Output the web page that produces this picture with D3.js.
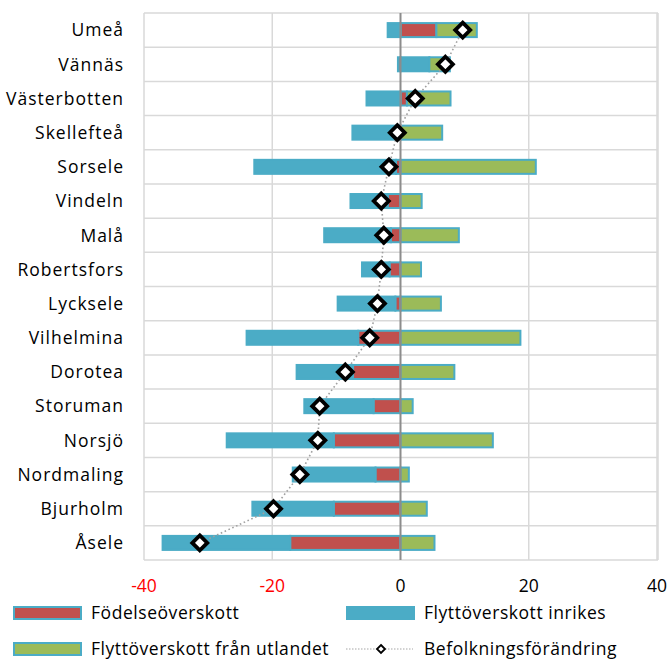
<!DOCTYPE html>
<html>
<head>
<meta charset="utf-8">
<script src="https://d3js.org/d3.v7.min.js"></script>
<style>
  body { margin: 0; background: #fff; }
  text { font-family: "Open Sans", sans-serif; }
</style>
</head>
<body>
<div id="chart"></div>
<script>
// kommuner, uppifrån och ned
const kommuner = ["Umeå", "Vännäs", "Västerbotten", "Skellefteå", "Sorsele", "Vindeln", "Malå",
    "Robertsfors", "Lycksele", "Vilhelmina", "Dorotea", "Storuman", "Norsjö", "Nordmaling", "Bjurholm", "Åsele"];

const fodelse = [5.6, -0.4, 1.0, -0.2, -0.7, -2.0, -1.5, -1.7, -0.8, -6.6, -7.4, -4.2, -10.4, -3.9, -10.4, -17.2];
const inrikes = [-2.0, 4.5, -5.3, -7.3, -22.1, -5.8, -10.4, -4.3, -9.0, -17.4, -8.8, -10.8, -16.7, -12.9, -12.7, -19.9];
const utlandet = [6.3, 3.2, 6.8, 6.5, 21.1, 3.3, 9.1, 3.2, 6.3, 18.7, 8.4, 1.9, 14.4, 1.3, 4.1, 5.3];
const forandring = [9.7, 7.0, 2.3, -0.5, -1.8, -3.0, -2.6, -3.0, -3.6, -4.8, -8.6, -12.6, -12.9, -15.7, -19.8, -31.3];

const xTicks = [-40, -20, 0, 20, 40];

const seriesNames = ["Födelseöverskott", "Flyttöverskott inrikes", "Flyttöverskott från utlandet", "Befolkningsförändring"];
const colors = { fodelse: "#C0504D", inrikes: "#4BACC6", utlandet: "#9BBB59" };

const svgWidth = 670;
const svgHeight = 659;

const margin = { top: 13, right: 12, bottom: 99, left: 144 };
const width = svgWidth - margin.left - margin.right;
const height = svgHeight - margin.top - margin.bottom;

const fontSize = 17.5;

const svg = d3.select("#chart")
    .append("svg")
    .attr("width", svgWidth)
    .attr("height", svgHeight);

const chartGroup = svg.append("g")
    .attr("transform", `translate(${margin.left}, ${margin.top})`);

// table for the stack
const rows = kommuner.map((k, i) => ({
    kommun: k,
    fodelse: fodelse[i],
    inrikes: inrikes[i],
    utlandet: utlandet[i],
    forandring: forandring[i]
}));

const stacked = d3.stack()
    .keys(["fodelse", "inrikes", "utlandet"])
    .offset(d3.stackOffsetDiverging)(rows);

const xScale = d3.scaleLinear()
    .domain([-40, 40])
    .range([0, width - 1]);

const yScale = d3.scaleBand()
    .domain(kommuner)
    .range([0, height])
    .paddingInner(0.59)
    .paddingOuter(0.295);

const step = yScale.step();

// gridlines
chartGroup.append("g")
    .selectAll("line")
    .data(d3.range(kommuner.length + 1))
    .enter()
    .append("line")
    .attr("x1", 0)
    .attr("x2", width)
    .attr("y1", d => d * step)
    .attr("y2", d => d * step)
    .attr("stroke", "#d9d9d9")
    .attr("stroke-width", 1.5);

chartGroup.append("g")
    .selectAll("line")
    .data(xTicks.filter(t => t !== 0))
    .enter()
    .append("line")
    .attr("x1", d => xScale(d))
    .attr("x2", d => xScale(d))
    .attr("y1", 0)
    .attr("y2", height)
    .attr("stroke", "#d9d9d9")
    .attr("stroke-width", 1.5);

chartGroup.append("line")
    .attr("x1", width)
    .attr("x2", width)
    .attr("y1", 0)
    .attr("y2", height)
    .attr("stroke", "#d9d9d9")
    .attr("stroke-width", 1.5);

// bars
const barH = yScale.bandwidth();
chartGroup.selectAll(".serie")
    .data(stacked)
    .enter()
    .append("g")
    .attr("class", "serie")
    .attr("fill", d => colors[d.key])
    .selectAll("rect")
    .data(d => d)
    .enter()
    .append("rect")
    .attr("x", d => xScale(Math.min(d[0], d[1])))
    .attr("width", d => Math.abs(xScale(d[1]) - xScale(d[0])))
    .attr("y", d => yScale(d.data.kommun))
    .attr("height", barH)
    .attr("stroke", colors.inrikes)
    .attr("stroke-width", 2);

// zero line
chartGroup.append("line")
    .attr("x1", xScale(0))
    .attr("x2", xScale(0))
    .attr("y1", 0)
    .attr("y2", height)
    .attr("stroke", "#8c8c8c")
    .attr("stroke-width", 2);

// population change: dotted line with diamonds
const line = d3.line()
    .x(d => xScale(d.forandring))
    .y(d => yScale(d.kommun) + barH / 2);

chartGroup.append("path")
    .datum(rows)
    .attr("d", line)
    .attr("fill", "none")
    .attr("stroke", "#a0a0a0")
    .attr("stroke-width", 1.6)
    .attr("stroke-dasharray", "1.6,2.6");

const diamond = s => `M0,${-s}L${s},0L0,${s}L${-s},0Z`;

chartGroup.selectAll(".diamond")
    .data(rows)
    .enter()
    .append("path")
    .attr("class", "diamond")
    .attr("transform", d => `translate(${xScale(d.forandring)}, ${yScale(d.kommun) + barH / 2})`)
    .attr("d", diamond(7.5))
    .attr("fill", "#fff")
    .attr("stroke", "#000")
    .attr("stroke-width", 3.8)
    .attr("stroke-linejoin", "miter");

// category labels
chartGroup.selectAll(".kommun")
    .data(kommuner)
    .enter()
    .append("text")
    .attr("class", "kommun")
    .attr("x", -20)
    .attr("y", d => yScale(d) + barH / 2)
    .attr("dy", "0.36em")
    .attr("text-anchor", "end")
    .attr("font-size", fontSize)
    .attr("letter-spacing", 1)
    .attr("fill", "#000")
    .text(d => d);

// x tick labels
chartGroup.selectAll(".xtick")
    .data(xTicks)
    .enter()
    .append("text")
    .attr("class", "xtick")
    .attr("x", d => xScale(d))
    .attr("y", height + 32)
    .attr("text-anchor", "middle")
    .attr("font-size", fontSize)
    .attr("fill", d => d < 0 ? "#FF0000" : "#000")
    .text(d => d < 0 ? "-" + Math.abs(d) : d);

// legend
const legendItems = [
    { name: seriesNames[0], fill: colors.fodelse, x: 13, y: 613 },
    { name: seriesNames[1], fill: colors.inrikes, x: 346, y: 613 },
    { name: seriesNames[2], fill: colors.utlandet, x: 13, y: 649 },
    { name: seriesNames[3], fill: null, x: 346, y: 649 }
];

const legend = svg.append("g");

legendItems.forEach(item => {
    const g = legend.append("g")
        .attr("transform", `translate(${item.x}, ${item.y})`);
    if (item.fill) {
        g.append("rect")
            .attr("x", 1)
            .attr("y", -6)
            .attr("width", 67)
            .attr("height", 12)
            .attr("fill", item.fill)
            .attr("stroke", colors.inrikes)
            .attr("stroke-width", 2);
    } else {
        g.append("line")
            .attr("x1", 0)
            .attr("x2", 67)
            .attr("stroke", "#a6a6a6")
            .attr("stroke-width", 1.2)
            .attr("stroke-dasharray", "1.5,1.5");
        g.append("path")
            .attr("transform", "translate(35, 0)")
            .attr("d", diamond(4))
            .attr("fill", "#fff")
            .attr("stroke", "#000")
            .attr("stroke-width", 1.8);
    }
    g.append("text")
        .attr("x", 78)
        .attr("dy", "0.36em")
        .attr("font-size", fontSize)
        .attr("letter-spacing", 0.55)
        .attr("fill", "#000")
        .text(item.name);
});
</script>
</body>
</html>
